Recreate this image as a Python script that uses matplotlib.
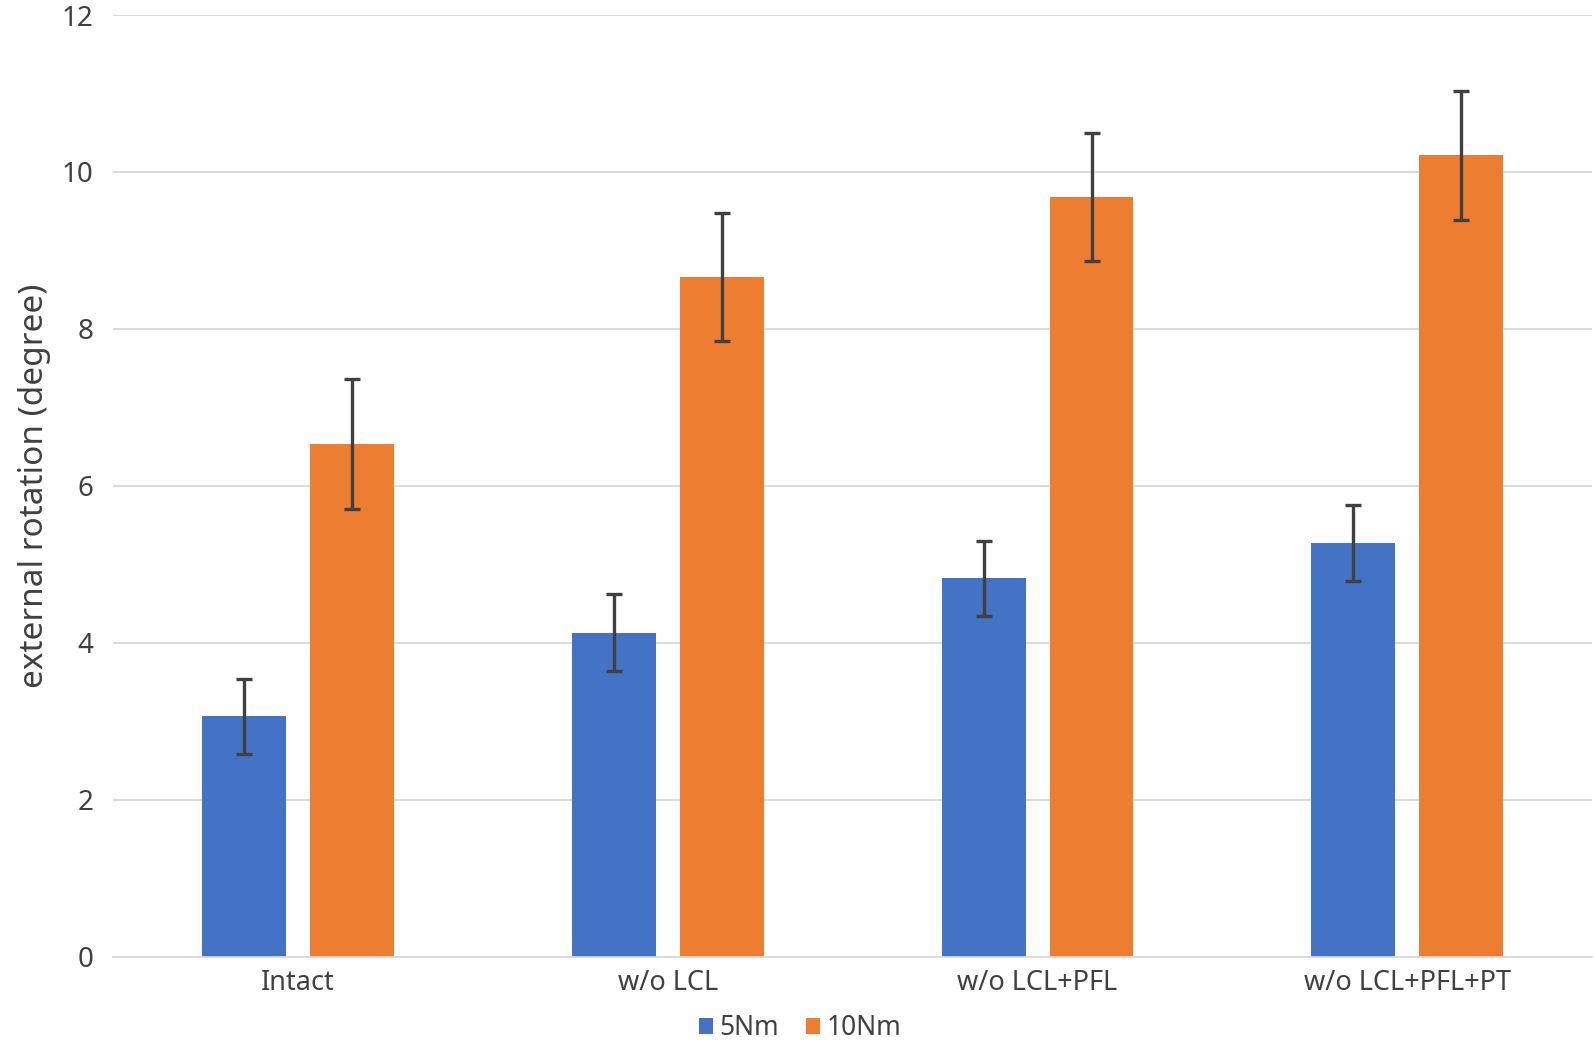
import matplotlib
matplotlib.use("Agg")
import matplotlib.pyplot as plt
import numpy as np

categories = ["Intact", "w/o LCL", "w/o LCL+PFL", "w/o LCL+PFL+PT"]
series_names = ["5Nm", "10Nm"]
vals_5 = [3.06, 4.13, 4.82, 5.27]
err_5 = [0.48, 0.49, 0.48, 0.48]
vals_10 = [6.53, 8.66, 9.68, 10.21]
err_10 = [0.83, 0.82, 0.82, 0.82]
yticks = [0, 2, 4, 6, 8, 10, 12]

plt.rcParams['font.family'] = ['Noto Sans', 'DejaVu Sans']

fig = plt.figure(figsize=(15.94, 10.42), dpi=100)
ax = fig.add_axes([0.0709, 0.082, 0.928, 0.9036])

x = np.arange(len(categories))
w = 0.227
off = 0.146
ekw = dict(ecolor="#404040", elinewidth=2.4, capsize=6, capthick=2.4)
ax.bar(x - off, vals_5, w, color="#4472C4", label=series_names[0], zorder=2)
ax.bar(x + off, vals_10, w, color="#ED7D31", label=series_names[1], zorder=2)
ax.errorbar(x - off, vals_5, yerr=err_5, fmt="none", zorder=3, **ekw)
ax.errorbar(x + off, vals_10, yerr=err_10, fmt="none", zorder=3, **ekw)

ax.set_xlim(-0.5, len(categories) - 0.5)
ax.set_ylim(0, 12)
ax.set_yticks(yticks)
ax.set_xticks(x)
ax.set_xticklabels(categories, fontsize=19.5, color="#404040")
ax.tick_params(axis="y", labelsize=20, labelcolor="#404040", length=0, pad=14)
ax.tick_params(axis="x", length=0, pad=9)
ax.grid(axis="y", color="#D9D9D9", linewidth=1.3, zorder=0)
for s in ["top", "right", "left"]:
    ax.spines[s].set_visible(False)
ax.spines["bottom"].set_color("#D9D9D9")
ax.spines["bottom"].set_linewidth(1.3)
ax.set_ylabel("external rotation (degree)", fontsize=24, color="#404040", labelpad=8)

leg = fig.legend(loc="center", bbox_to_anchor=(0.502, 0.013), ncol=2, frameon=False,
                 fontsize=19, handlelength=0.55, handleheight=0.55, handletextpad=0.25,
                 columnspacing=1.0, labelcolor="#404040")
fig.savefig("out.png", dpi=100, facecolor="white")
